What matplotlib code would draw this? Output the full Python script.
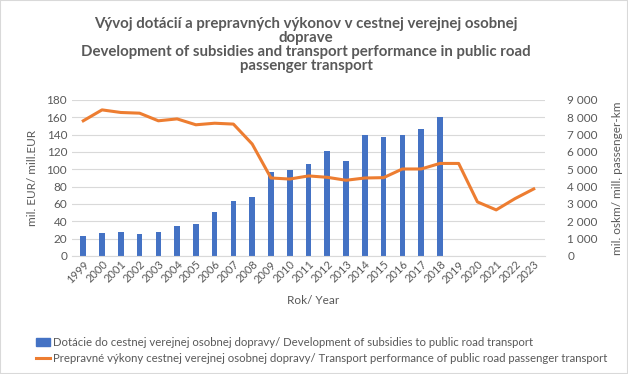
import matplotlib
matplotlib.use('Agg')
import matplotlib.pyplot as plt
from matplotlib.patches import Rectangle
import numpy as np

# Data
years = list(range(1999, 2024))
subsidies = [23, 26, 28, 25, 28, 35, 37, 51, 64, 68, 97, 99, 106, 121, 110,
             140, 137, 140, 147, 160]  # 1999-2018
performance = [7800, 8430, 8280, 8240, 7800, 7910, 7570, 7660, 7610, 6460,
               4500, 4440, 4620, 4540, 4370, 4500, 4520, 5020, 5020, 5340,
               5340, 3120, 2660, 3310, 3870]

title = ('Vývoj dotácií a prepravných výkonov v cestnej verejnej osobnej\ndoprave\n'
         'Development of subsidies and transport performance in public road\npassenger transport')
bar_label = 'Dotácie do cestnej verejnej osobnej dopravy/ Development of subsidies to public road transport'
line_label = 'Prepravné výkony cestnej verejnej osobnej dopravy/ Transport performance of public road passenger transport'

blue = '#4472C4'
orange = '#ED7D31'
grey = '#595959'

plt.rcParams['font.family'] = ['Lato', 'DejaVu Sans']

fig = plt.figure(figsize=(6.28, 3.74), dpi=100)
fig.patches.append(Rectangle((0, 0), 1, 1, transform=fig.transFigure,
                             fill=False, edgecolor='#D9D9D9', lw=1.5))
ax = fig.add_axes([72 / 628, 1 - 256 / 374, (545 - 72) / 628, 156 / 374])
ax2 = ax.twinx()

x = np.arange(len(years))
ax.bar(x[:len(subsidies)], subsidies, width=0.3, color=blue, zorder=2)
ax2.plot(x, performance, color=orange, lw=2.2, zorder=3)

ax.set_xlim(-0.6, len(years) - 0.4)
ax.set_ylim(0, 180)
ax.set_yticks(range(0, 181, 20))
ax2.set_ylim(0, 9000)
ax2.set_yticks(range(0, 9001, 1000))
ax2.set_yticklabels([f'{v:,}'.replace(',', ' ') for v in range(0, 9001, 1000)])
ax.grid(axis='y', color='#D9D9D9', lw=0.8, zorder=0)
ax.set_axisbelow(True)
ax.set_xticks(x)
ax.set_xticklabels(years, rotation=45, ha='right', rotation_mode='anchor')

for a in (ax, ax2):
    for s in a.spines.values():
        s.set_visible(False)
    a.tick_params(length=0, colors=grey, labelsize=8.5)
ax.spines['bottom'].set_visible(True)
ax.spines['bottom'].set_color('#D9D9D9')
ax.tick_params(axis='x', pad=2, labelsize=8)
ax2.tick_params(axis='y', pad=16)

ax.set_ylabel('mil. EUR/ mill.EUR', color=grey, fontsize=8.5, labelpad=6)
ax2.set_ylabel('mil. oskm/ mill. passenger-km', color=grey, fontsize=8.5, labelpad=10)
fig.text(313 / 628, 1 - 301 / 374, 'Rok/ Year', ha='center', va='center',
         color=grey, fontsize=8.5)

fig.text(306 / 628, 1 - 45 / 374, title, ha='center', va='center',
         fontsize=10.8, fontweight='bold', color=grey, linespacing=1.0)

handles = [Rectangle((0, 0), 1, 1, color=blue),
           plt.Line2D([0], [0], color=orange, lw=2.2)]
fig.legend(handles, [bar_label, line_label], loc='upper left',
           bbox_to_anchor=(36 / 628, 1 - 337 / 374), frameon=False,
           fontsize=8.2, labelcolor=grey, handlelength=1.2, handletextpad=0.3,
           labelspacing=0.45, borderpad=0, borderaxespad=0)

fig.savefig('out.png', dpi=100)
